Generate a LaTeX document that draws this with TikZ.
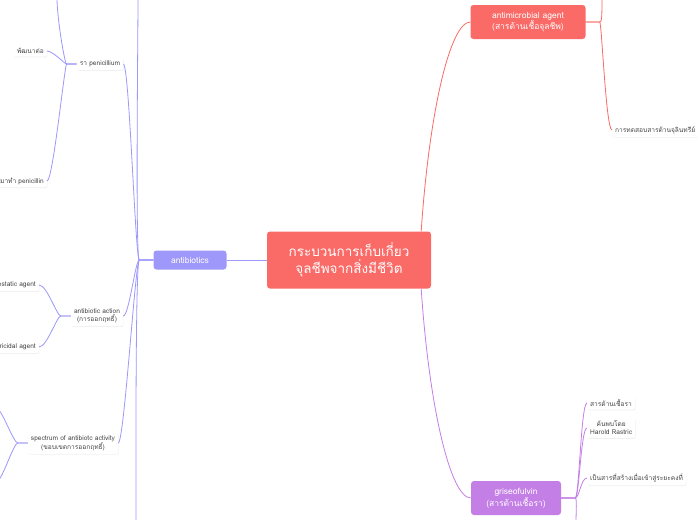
\documentclass[tikz,border=0pt]{standalone}
\usepackage{fontspec}
\setmainfont{Poppins}
\newfontfamily\thai[Script=Thai]{Loma}
\usetikzlibrary{shadows}
\definecolor{rootred}{HTML}{FA6A66}
\definecolor{lilac}{HTML}{9D98FA}
\definecolor{violet}{HTML}{C47FE6}
\definecolor{leafgray}{HTML}{444444}
\tikzset{
  Main/.style={rounded corners=3pt, align=center, text=white, inner sep=4pt, font=\thai},
  Leaf/.style={rounded corners=2pt, align=center, fill=white, text=leafgray, inner sep=3pt,
    font=\thai\fontsize{6.6}{8}\selectfont, drop shadow={opacity=0.12, shadow xshift=0.5pt, shadow yshift=-0.8pt}},
  Blue/.style={draw=lilac, line width=0.8pt},
  Red/.style={draw=rootred, line width=0.8pt},
  Purple/.style={draw=violet, line width=0.8pt},
}
\begin{document}
\begin{tikzpicture}[x=1pt,y=-1pt]
  \useasboundingbox[fill=white] (0,0) rectangle (697,520);
  % main nodes
  \node [Main, fill=rootred, minimum width=164, minimum height=57, font=\thai\fontsize{13.5}{17}\selectfont] (root) at (349,260) {กระบวนการเก็บเกี่ยว\\จุลชีพจากสิ่งมีชีวิต};
  \node [Main, fill=lilac, minimum width=73, minimum height=19, font=\thai\fontsize{8.5}{10}\selectfont] (abx) at (190,260) {antibiotics};
  \node [Main, fill=rootred, minimum width=115, minimum height=34, font=\thai\fontsize{8.5}{10.5}\selectfont] (amb) at (528,22) {antimicrobial agent\\(สารต้านเชื้อจุลชีพ)};
  \node [Main, fill=violet, minimum width=90, minimum height=34, font=\thai\fontsize{8.5}{10.5}\selectfont] (gri) at (516,498) {griseofulvin\\(สารต้านเชื้อรา)};
  % leaves
  \node [Leaf] (pen) at (100,64) {รา penicillium};
  \node [Leaf, anchor=east] (dev) at (47,51) {พัฒนาต่อ};
  \node [Leaf, anchor=east] (make) at (47,181) {นำมาทำ penicillin};
  \node [Leaf] (act) at (97,316) {antibiotic action\\(การออกฤทธิ์)};
  \node [Leaf, anchor=east] (stat) at (39,285) {bacteriostatic agent};
  \node [Leaf, anchor=east] (cid) at (39,347) {bactericidal agent};
  \node [Leaf] (spec) at (73,443) {spectrum of antibiotc activity\\(ขอบเขตการออกฤทธิ์)};
  \node [Leaf, anchor=west] (test) at (612,130) {การทดสอบสารต้านจุลินทรีย์};
  \node [Leaf, anchor=west] (fung) at (587,403) {สารต้านเชื้อรา};
  \node [Leaf, anchor=west] (harold) at (587,428) {ค้นพบโดย\\Harold Rastric};
  \node [Leaf, anchor=west] (stat2) at (587,478) {เป็นสารที่สร้างเมื่อเข้าสู่ระยะคงที่};
  % free ends
  \coordinate (abxtop) at (138,-2);
  \coordinate (abxbot) at (136,522);
  \coordinate (pentop) at (57,-2);
  \coordinate (spec1) at (-2,410);
  \coordinate (spec2) at (-2,480);
  \coordinate (ambtop) at (602,-2);
  \coordinate (gribot) at (576,522);
  % connectors
  \draw[Blue] (root.west) -- (abx.east);
  \draw[Red] ([xshift=-10pt]root.north east) .. controls +(8,-120) and +(-20,0) .. (amb.west);
  \draw[Purple] ([xshift=-10pt]root.south east) .. controls +(8,120) and +(-20,0) .. (gri.west);
  \foreach \n in {pen,act,spec} {
    \draw[Blue] (abx.west) -- +(-14,0) .. controls +(-4,0) and +(6,0) .. (\n.east);
  }
  \draw[Blue] (abx.west) -- +(-14,0) .. controls +(-4,0) and +(0,40) .. (abxtop);
  \draw[Blue] (abx.west) -- +(-14,0) .. controls +(-4,0) and +(0,-40) .. (abxbot);
  \foreach \n in {dev,make} {
    \draw[Blue] (pen.west) -- +(-10,0) .. controls +(-2,0) and +(6,0) .. (\n.east);
  }
  \draw[Blue] (pen.west) -- +(-10,0) .. controls +(-2,0) and +(0,20) .. (pentop);
  \foreach \n in {stat,cid} {
    \draw[Blue] (act.west) -- +(-10,0) .. controls +(-4,0) and +(8,0) .. (\n.east);
  }
  \foreach \n in {spec1,spec2} {
    \draw[Blue] (spec.west) -- +(-10,0) .. controls +(-4,0) and +(4,0) .. (\n);
  }
  \draw[Red] (amb.east) -- +(14,0) .. controls +(2,0) and +(0,20) .. (ambtop);
  \draw[Red] (amb.east) -- +(14,0) .. controls +(2,0) and +(-6,0) .. (test.west);
  \foreach \n in {fung,harold,stat2} {
    \draw[Purple] (gri.east) -- +(14,0) .. controls +(4,0) and +(-6,0) .. (\n.west);
  }
  \draw[Purple] (gri.east) -- +(14,0) .. controls +(2,0) and +(0,-10) .. (gribot);
\end{tikzpicture}
\end{document}
